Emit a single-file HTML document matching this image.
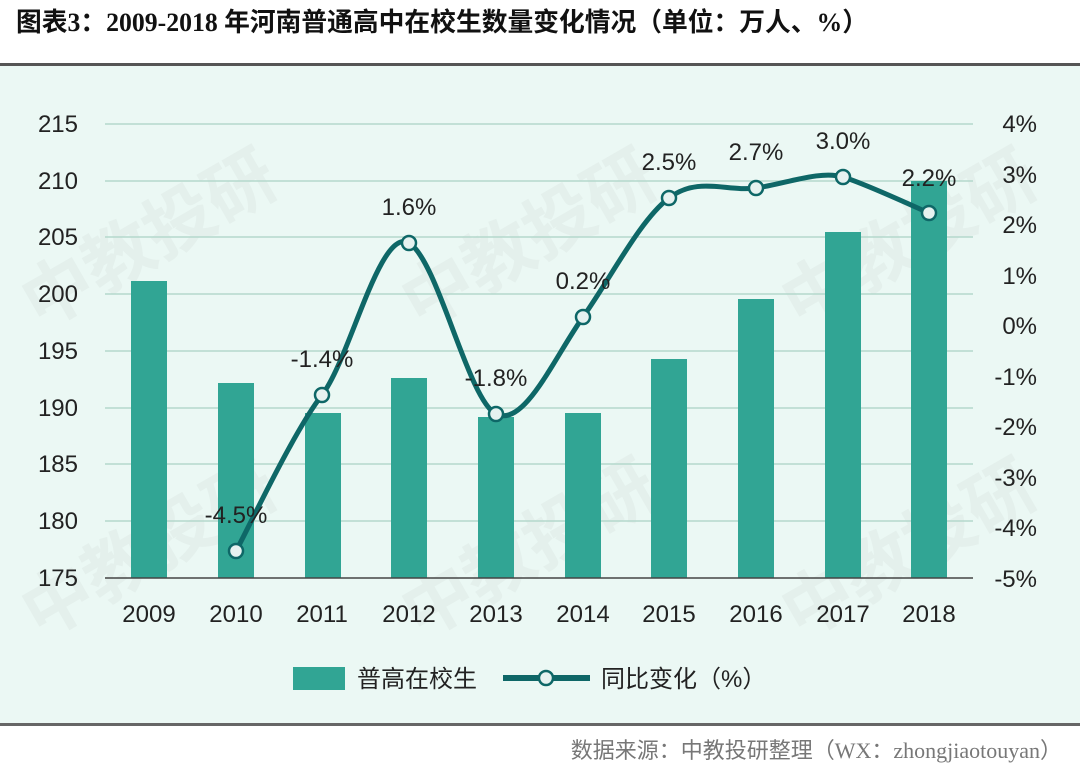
<!DOCTYPE html>
<html><head><meta charset="utf-8"><style>
body{margin:0;width:1080px;height:771px;background:#fff;overflow:hidden;font-family:"Liberation Sans","Noto Sans CJK SC",sans-serif}
</style></head><body>
<svg width="1080" height="771" xmlns="http://www.w3.org/2000/svg" style="position:absolute;left:0;top:0">
<text x="16" y="31" font-family="Liberation Serif,'Noto Sans CJK SC',serif" font-weight="bold" font-size="26" fill="#111" textLength="852" lengthAdjust="spacingAndGlyphs">图表3：2009-2018 年河南普通高中在校生数量变化情况（单位：万人、%）</text>
<rect x="0" y="65" width="1080" height="660" fill="#ebf8f4"/>
<rect x="0" y="63" width="1080" height="3" fill="#555"/>
<rect x="0" y="723" width="1080" height="3" fill="#666"/>
<g font-family="'Noto Sans CJK SC',sans-serif" font-size="70" font-weight="bold" fill="#dde9e5" opacity="0.5">
<text transform="translate(40,330) rotate(-30)">中教投研</text>
<text transform="translate(420,330) rotate(-30)">中教投研</text>
<text transform="translate(800,330) rotate(-30)">中教投研</text>
<text transform="translate(40,640) rotate(-30)">中教投研</text>
<text transform="translate(420,640) rotate(-30)">中教投研</text>
<text transform="translate(800,640) rotate(-30)">中教投研</text>
</g>
<g stroke="#b4d8cc" stroke-width="1.5">
<line x1="105" x2="973" y1="124" y2="124"/><line x1="105" x2="973" y1="181" y2="181"/>
<line x1="105" x2="973" y1="237" y2="237"/><line x1="105" x2="973" y1="294" y2="294"/>
<line x1="105" x2="973" y1="351" y2="351"/><line x1="105" x2="973" y1="408" y2="408"/>
<line x1="105" x2="973" y1="464" y2="464"/><line x1="105" x2="973" y1="521" y2="521"/>
</g>
<g fill="#31a594">
<rect x="131" y="281" width="36" height="297"/><rect x="218" y="383" width="36" height="195"/>
<rect x="305" y="413" width="36" height="165"/><rect x="391" y="378" width="36" height="200"/>
<rect x="478" y="417" width="36" height="161"/><rect x="565" y="413" width="36" height="165"/>
<rect x="651" y="359" width="36" height="219"/><rect x="738" y="299" width="36" height="279"/>
<rect x="825" y="232" width="36" height="346"/><rect x="911" y="181" width="36" height="397"/>
</g>
<line x1="105" x2="973" y1="578" y2="578" stroke="#444" stroke-width="1.5"/>
<g font-size="24" fill="#222" text-anchor="end">
<text x="78" y="132">215</text><text x="78" y="189">210</text><text x="78" y="245">205</text>
<text x="78" y="302">200</text><text x="78" y="359">195</text><text x="78" y="416">190</text>
<text x="78" y="472">185</text><text x="78" y="529">180</text><text x="78" y="586">175</text>
</g>
<g font-size="24" fill="#222" text-anchor="end">
<text x="1037" y="132">4%</text><text x="1037" y="183">3%</text><text x="1037" y="233">2%</text>
<text x="1037" y="284">1%</text><text x="1037" y="334">0%</text><text x="1037" y="385">-1%</text>
<text x="1037" y="435">-2%</text><text x="1037" y="486">-3%</text><text x="1037" y="536">-4%</text>
<text x="1037" y="587">-5%</text>
</g>
<g font-size="24" fill="#222" text-anchor="middle">
<text x="149" y="622">2009</text><text x="236" y="622">2010</text><text x="322" y="622">2011</text>
<text x="409" y="622">2012</text><text x="496" y="622">2013</text><text x="583" y="622">2014</text>
<text x="669" y="622">2015</text><text x="756" y="622">2016</text><text x="843" y="622">2017</text>
<text x="929" y="622">2018</text>
</g>
<path d="M236,551 C250,525 294,431 322,395 C350,359 380,226 409,243 C438,260 468,400 496,414 C524,428 554,358 583,317 C612,276 640,220 669,198 C698,176 727,192 756,188 C785,184 820,170 843,177 C866,184 915,207 929,213" fill="none" stroke="#0e6767" stroke-width="5"/>
<g fill="#e6f2f0" stroke="#0e6767" stroke-width="2.5">
<circle cx="236" cy="551" r="7"/><circle cx="322" cy="395" r="7"/><circle cx="409" cy="243" r="7"/>
<circle cx="496" cy="414" r="7"/><circle cx="583" cy="317" r="7"/><circle cx="669" cy="198" r="7"/>
<circle cx="756" cy="188" r="7"/><circle cx="843" cy="177" r="7"/><circle cx="929" cy="213" r="7"/>
</g>
<g font-size="24" fill="#222" text-anchor="middle">
<text x="236" y="523">-4.5%</text><text x="322" y="367">-1.4%</text><text x="409" y="215">1.6%</text>
<text x="496" y="386">-1.8%</text><text x="583" y="289">0.2%</text><text x="669" y="170">2.5%</text>
<text x="756" y="160">2.7%</text><text x="843" y="149">3.0%</text><text x="929" y="186">2.2%</text>
</g>
<rect x="293" y="667" width="52" height="23" fill="#31a594"/>
<text x="357" y="687" font-size="24" fill="#222">普高在校生</text>
<line x1="503" x2="590" y1="678" y2="678" stroke="#0e6767" stroke-width="6"/>
<circle cx="546" cy="678" r="7" fill="#e6f2f0" stroke="#0e6767" stroke-width="2.5"/>
<text x="601" y="687" font-size="24" fill="#222">同比变化（%）</text>
<text x="1062" y="758" font-size="22" fill="#777" text-anchor="end" font-family="Liberation Serif,'Noto Sans CJK SC',serif">数据来源：中教投研整理（WX：zhongjiaotouyan）</text>
</svg>
</body></html>
